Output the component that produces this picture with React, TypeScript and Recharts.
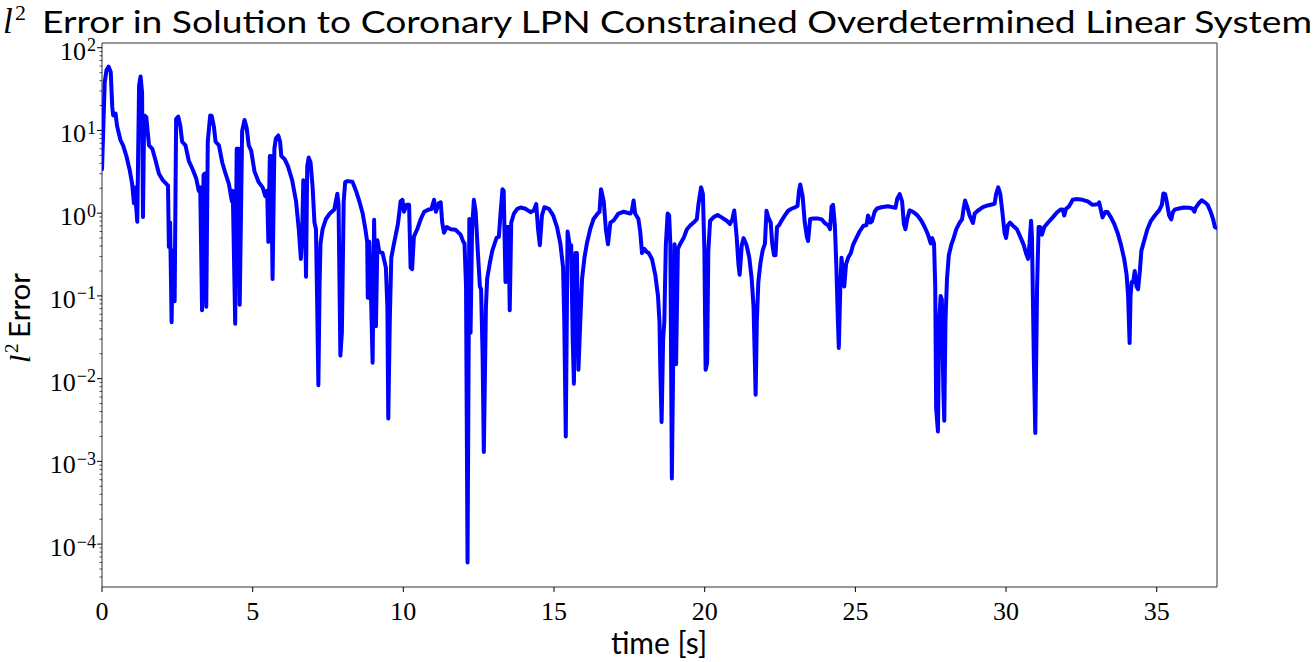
import React from 'react';
import { LineChart, Line, XAxis, YAxis, ReferenceArea } from 'recharts';

// time [s] of each sample
const timeS = [
    0.0, 0.09, 0.15, 0.22, 0.29, 0.34, 0.37, 0.45, 0.5, 0.61, 0.7, 0.81, 0.92, 1.0, 1.06, 1.09, 1.17,
    1.23, 1.28, 1.33, 1.36, 1.4, 1.47, 1.56, 1.67, 1.78, 1.89, 2.02, 2.19, 2.22, 2.26, 2.31, 2.35, 2.41,
    2.46, 2.53, 2.6, 2.66, 2.77, 2.88, 3.02, 3.13, 3.21, 3.26, 3.32, 3.37, 3.41, 3.46, 3.51, 3.59, 3.64,
    3.71, 3.77, 3.88, 3.99, 4.1, 4.21, 4.31, 4.34, 4.42, 4.47, 4.53, 4.57, 4.65, 4.73, 4.8, 4.87, 4.95,
    5.06, 5.2, 5.33, 5.42, 5.48, 5.52, 5.57, 5.61, 5.66, 5.72, 5.77, 5.85, 5.91, 5.95, 6.06, 6.17, 6.31,
    6.44, 6.53, 6.6, 6.64, 6.68, 6.72, 6.77, 6.81, 6.86, 6.92, 6.99, 7.05, 7.1, 7.14, 7.18, 7.22, 7.25,
    7.32, 7.43, 7.56, 7.71, 7.76, 7.81, 7.85, 7.91, 7.96, 8.02, 8.07, 8.15, 8.31, 8.43, 8.54, 8.65, 8.74,
    8.8, 8.82, 8.87, 8.93, 8.98, 9.03, 9.09, 9.14, 9.2, 9.31, 9.42, 9.47, 9.5, 9.55, 9.6, 9.69, 9.75,
    9.82, 9.91, 9.97, 10.02, 10.11, 10.19, 10.24, 10.29, 10.35, 10.46, 10.58, 10.69, 10.85, 10.93, 11.02,
    11.08, 11.18, 11.24, 11.29, 11.35, 11.44, 11.57, 11.73, 11.9, 11.99, 12.03, 12.08, 12.13, 12.19,
    12.23, 12.28, 12.34, 12.4, 12.47, 12.54, 12.58, 12.63, 12.67, 12.74, 12.78, 12.87, 12.95, 13.03,
    13.09, 13.17, 13.22, 13.29, 13.33, 13.39, 13.45, 13.49, 13.53, 13.58, 13.67, 13.78, 13.89, 14.05,
    14.22, 14.33, 14.41, 14.47, 14.53, 14.6, 14.68, 14.83, 14.97, 15.1, 15.21, 15.3, 15.34, 15.39, 15.43,
    15.45, 15.52, 15.57, 15.62, 15.66, 15.71, 15.76, 15.81, 15.87, 15.93, 16.01, 16.09, 16.2, 16.31,
    16.45, 16.51, 16.56, 16.65, 16.72, 16.79, 16.87, 16.98, 17.14, 17.31, 17.53, 17.58, 17.64, 17.69,
    17.8, 17.86, 17.92, 18.0, 18.08, 18.14, 18.25, 18.36, 18.45, 18.5, 18.53, 18.57, 18.62, 18.66, 18.71,
    18.77, 18.82, 18.86, 18.91, 18.95, 19.0, 19.05, 19.11, 19.18, 19.3, 19.41, 19.52, 19.63, 19.74,
    19.79, 19.88, 19.94, 19.99, 20.03, 20.08, 20.12, 20.18, 20.29, 20.43, 20.56, 20.73, 20.84, 20.92,
    20.98, 21.06, 21.12, 21.16, 21.23, 21.29, 21.39, 21.48, 21.56, 21.62, 21.66, 21.69, 21.73, 21.78,
    21.85, 21.92, 22.0, 22.05, 22.11, 22.19, 22.24, 22.3, 22.35, 22.4, 22.46, 22.55, 22.66, 22.77, 22.88,
    23.0, 23.08, 23.13, 23.17, 23.25, 23.32, 23.39, 23.43, 23.5, 23.6, 23.77, 23.88, 23.99, 24.1, 24.16,
    24.21, 24.26, 24.32, 24.37, 24.42, 24.45, 24.5, 24.54, 24.6, 24.63, 24.69, 24.76, 24.85, 24.92, 25.03,
    25.14, 25.26, 25.37, 25.42, 25.5, 25.55, 25.64, 25.72, 25.86, 26.08, 26.33, 26.39, 26.47, 26.55,
    26.61, 26.66, 26.72, 26.8, 26.91, 27.06, 27.19, 27.3, 27.41, 27.5, 27.55, 27.61, 27.65, 27.68, 27.74,
    27.78, 27.83, 27.87, 27.92, 27.95, 27.99, 28.04, 28.1, 28.18, 28.26, 28.35, 28.46, 28.54, 28.59,
    28.64, 28.71, 28.79, 28.9, 28.96, 29.06, 29.23, 29.39, 29.62, 29.67, 29.74, 29.81, 29.89, 29.95, 30.0,
    30.06, 30.13, 30.22, 30.36, 30.47, 30.58, 30.66, 30.73, 30.78, 30.83, 30.86, 30.92, 30.97, 31.03,
    31.08, 31.13, 31.19, 31.27, 31.38, 31.55, 31.71, 31.82, 31.88, 31.93, 31.99, 32.08, 32.15, 32.21,
    32.32, 32.54, 32.71, 32.87, 33.04, 33.09, 33.15, 33.2, 33.29, 33.37, 33.48, 33.59, 33.7, 33.81, 33.92,
    34.0, 34.05, 34.1, 34.13, 34.17, 34.22, 34.27, 34.33, 34.38, 34.44, 34.49, 34.58, 34.69, 34.8, 34.95,
    35.08, 35.17, 35.22, 35.28, 35.33, 35.41, 35.48, 35.54, 35.61, 35.74, 35.91, 36.07, 36.18, 36.25,
    36.29, 36.4, 36.49, 36.6, 36.69, 36.79, 36.87, 36.93, 37.0,
];

// l2 error at each sample
const errorL2 = [
    3.4, 38, 54, 59, 51, 19.4, 15.2, 16, 11.3, 7.7, 6.6, 4.9, 3.3, 2.26, 1.32, 2.05, 0.79,
    34.8, 45, 28.6, 0.9, 15.2, 14.5, 6.6, 6.0, 4.3, 3.0, 2.5, 2.15, 0.39, 0.77, 0.048, 0.355, 0.086,
    13.7, 14.7, 11.3, 7.3, 6.6, 4.3, 3.3, 2.6, 1.86, 2.05, 0.067, 2.9, 3.0, 0.074, 7.3, 15.2, 15,
    11.3, 7.3, 6.6, 4.1, 3.0, 2.26, 1.39, 1.86, 0.046, 6.0, 6.0, 0.078, 9.8, 13.4, 10.8, 6.6, 5.7,
    3.2, 2.37, 2.05, 1.6, 1.86, 0.45, 4.9, 4.9, 0.16, 6.0, 8.0, 8.7, 7.3, 4.9, 4.5, 3.7, 2.5,
    1.39, 0.64, 0.28, 0.52, 2.5, 2.37, 0.17, 3.7, 4.7, 4.1, 2.05, 0.77, 0.64, 0.082, 0.0083, 0.133, 0.43,
    0.64, 0.85, 0.99, 1.11, 1.39, 1.72, 1.26, 0.019, 0.036, 1.39, 2.37, 2.44, 2.4, 1.86, 1.39, 0.99, 0.64,
    0.45, 0.095, 0.45, 0.09, 0.0156, 0.83, 0.043, 0.47, 0.34, 0.33, 0.22, 0.074, 0.0033, 0.05, 0.29, 0.43, 0.55,
    0.74, 1.39, 1.45, 1.04, 1.26, 1.26, 0.22, 0.21, 0.52, 0.64, 0.85, 1.04, 1.11, 1.12, 1.45,
    1.04, 1.32, 1.35, 0.77, 0.58, 0.68, 0.64, 0.63, 0.55, 0.45, 0.43, 0.13, 0.00006, 0.85,
    0.036, 0.64, 1.45, 1.04, 0.35, 0.13, 0.12, 0.019, 0.0013, 0.074, 0.16, 0.25, 0.35, 0.43,
    0.5, 0.52, 0.94, 1.95, 1.86, 0.147, 0.68, 0.68, 0.067, 0.77, 0.99, 1.13, 1.17, 1.13,
    1.03, 1.08, 1.29, 0.64, 0.41, 0.94, 1.18, 1.13, 0.94, 0.68, 0.43, 0.22, 0.05, 0.002, 0.1,
    0.6, 0.41, 0.41, 0.03, 0.0087, 0.33, 0.33, 0.0128, 0.048, 0.16, 0.29, 0.43, 0.64, 0.85,
    0.99, 1.04, 1.95, 1.39, 0.64, 0.42, 0.77, 0.82, 0.99, 1.04, 0.99, 1.05, 1.42, 0.99,
    0.85, 0.6, 0.33, 0.37, 0.34, 0.33, 0.28, 0.18, 0.1, 0.048, 0.0116, 0.003, 0.03, 0.048, 0.41,
    0.99, 0.94, 0.43, 0.00062, 0.0116, 0.42, 0.0149, 0.37, 0.42, 0.5, 0.64, 0.71, 0.77, 0.85,
    1.26, 2.05, 1.7, 0.35, 0.0128, 0.0156, 0.35, 0.81, 0.89, 0.95, 0.89, 0.81, 0.74, 0.85,
    1.08, 0.52, 0.24, 0.18, 0.41, 0.5, 0.41, 0.29, 0.16, 0.074, 0.019, 0.0064, 0.05, 0.147,
    0.25, 0.35, 0.43, 1.07, 0.89, 0.77, 0.43, 0.31, 0.31, 0.68, 0.71, 0.81, 0.94, 1.07, 1.13,
    1.18, 1.22, 1.87, 2.22, 1.6, 0.77, 0.52, 0.46, 0.85, 0.86, 0.86, 0.84, 0.76, 0.71, 0.64,
    1.2, 1.26, 0.71, 0.22, 0.05, 0.0235, 0.13, 0.29, 0.16, 0.13, 0.24, 0.29, 0.33, 0.41, 0.5,
    0.6, 0.7, 0.72, 0.94, 0.77, 0.8, 1.04, 1.14, 1.18, 1.21, 1.16, 1.5, 1.7, 1.39,
    0.74, 0.64, 0.85, 1.08, 1.04, 0.94, 0.81, 0.68, 0.55, 0.43, 0.5, 0.43, 0.13, 0.0044, 0.0023,
    0.05, 0.1, 0.09, 0.0071, 0.0031, 0.05, 0.16, 0.31, 0.41, 0.5, 0.64, 0.77, 0.84, 1.13,
    1.42, 1.2, 0.94, 0.76, 0.99, 1.07, 1.18, 1.24, 1.3, 1.7, 2.05, 1.7, 0.94, 0.58, 0.5,
    0.71, 0.77, 0.71, 0.64, 0.52, 0.42, 0.33, 0.28, 0.43, 0.81, 0.52, 0.019, 0.0022, 0.13,
    0.68, 0.68, 0.55, 0.68, 0.76, 0.89, 1.04, 1.11, 1.11, 0.94, 1.13, 1.2, 1.32, 1.45,
    1.48, 1.45, 1.39, 1.26, 1.28, 1.35, 1.08, 0.89, 1.03, 1.03, 0.89, 0.74, 0.58, 0.42, 0.28,
    0.18, 0.1, 0.027, 0.1, 0.147, 0.147, 0.2, 0.13, 0.12, 0.2, 0.35, 0.46, 0.64, 0.8, 0.95,
    1.08, 1.26, 1.73, 1.7, 1.39, 0.94, 0.84, 1.04, 1.11, 1.14, 1.17, 1.16, 1.14, 1.04,
    1.16, 1.32, 1.43, 1.35, 1.26, 1.04, 0.85, 0.68, 0.66,
];

const xTicks = [0, 5, 10, 15, 20, 25, 30, 35];

const X_MAX = 37;
const Y_MIN = 3.03e-5;
const Y_MAX = 114;

const chartData = timeS.map((t, i) => ({ t, err: errorL2[i] }));

// major ticks at each decade, minor ticks at 2..9 x decade (matplotlib log axis)
const yTicks: number[] = [];
for (let k = -5; k <= 2; k++) {
    for (let m = 1; m <= 9; m++) {
        const v = m * Math.pow(10, k);
        if (v >= Y_MIN && v <= Y_MAX) yTicks.push(v);
    }
}

const serif = '"Liberation Serif", "Times New Roman", serif';
const sans = 'Lato, "Open Sans", sans-serif';

const YTick = (props: any) => {
    const { x, y, payload } = props;
    const lg = Math.log10(payload.value);
    const exp = Math.round(lg);
    const isMajor = Math.abs(lg - exp) < 1e-6;
    return (
        <g>
            <line x1={x} x2={x - (isMajor ? 5 : 2.5)} y1={y} y2={y} stroke="#000" strokeWidth={isMajor ? 1 : 0.7} />
            {isMajor && (
                <text x={x - 6} y={y + 12} textAnchor="end" fontFamily={serif} fontSize={26} fill="#000">
                    10
                    <tspan dx={1} dy={-8.5} fontSize={18}>{exp < 0 ? `\u2212${-exp}` : `${exp}`}</tspan>
                </text>
            )}
        </g>
    );
};

const XTick = (props: any) => {
    const { x, y, payload } = props;
    return (
        <g>
            <line x1={x} x2={x} y1={y} y2={y + 5} stroke="#000" strokeWidth={1} />
            <text x={x} y={y + 33} textAnchor="middle" fontFamily={serif} fontSize={26} fill="#000">
                {payload.value}
            </text>
        </g>
    );
};

const App: React.FC = () => {
    return (
        <div style={{ position: 'absolute', left: 0, top: 0, width: 1315, height: 662, background: '#fff' }}>
            <LineChart
                width={1315}
                height={662}
                data={chartData}
                margin={{ top: 43, right: 98, bottom: 45, left: 42 }}
            >
                <XAxis
                    dataKey="t"
                    type="number"
                    domain={[0, X_MAX]}
                    ticks={xTicks}
                    interval={0}
                    allowDataOverflow
                    axisLine={false}
                    tickLine={false}
                    tickSize={0}
                    tickMargin={0}
                    height={30}
                    tick={(p: any) => <XTick {...p} />}
                />
                <YAxis
                    scale="log"
                    type="number"
                    domain={[Y_MIN, Y_MAX]}
                    ticks={yTicks}
                    interval={0}
                    allowDataOverflow
                    axisLine={false}
                    tickLine={false}
                    tickSize={0}
                    tickMargin={0}
                    width={60}
                    tick={(p: any) => <YTick {...p} />}
                />
                <ReferenceArea
                    x1={0}
                    x2={X_MAX}
                    y1={Y_MIN}
                    y2={Y_MAX}
                    fill="none"
                    stroke="#333"
                    strokeWidth={1}
                    ifOverflow="visible"
                />
                <Line
                    type="linear"
                    dataKey="err"
                    stroke="#0000ff"
                    strokeWidth={4}
                    strokeLinejoin="round"
                    strokeLinecap="round"
                    dot={false}
                    activeDot={false}
                    isAnimationActive={false}
                />
            </LineChart>
            <svg
                width={1315}
                height={662}
                style={{ position: 'absolute', left: 0, top: 0, pointerEvents: 'none' }}
            >
                {/* title */}
                <text y={33} fill="#000">
                    <tspan x={3} fontFamily={serif} fontStyle="italic" fontSize={35}>l</tspan>
                    <tspan x={15} dy={-13} fontFamily={serif} fontSize={22}>2</tspan>
                    <tspan x={42} dy={13} fontFamily={sans} fontSize={30} textLength={1270} lengthAdjust="spacingAndGlyphs">
                        Error in Solution to Coronary LPN Constrained Overdetermined Linear System
                    </tspan>
                </text>
                {/* y label */}
                <g transform="translate(30, 363) rotate(-90)">
                    <text x={0} y={0} fill="#000">
                        <tspan x={0} fontFamily={serif} fontStyle="italic" fontSize={30}>l</tspan>
                        <tspan x={10} dy={-12} fontFamily={serif} fontSize={19}>2</tspan>
                        <tspan x={25} dy={12} fontFamily={sans} fontSize={28} textLength={65} lengthAdjust="spacingAndGlyphs">
                            Error
                        </tspan>
                    </text>
                </g>
                {/* x label */}
                <text x={659} y={654} textAnchor="middle" fontFamily={sans} fontSize={30} fill="#000">
                    time [s]
                </text>
            </svg>
        </div>
    );
};

export default App;
